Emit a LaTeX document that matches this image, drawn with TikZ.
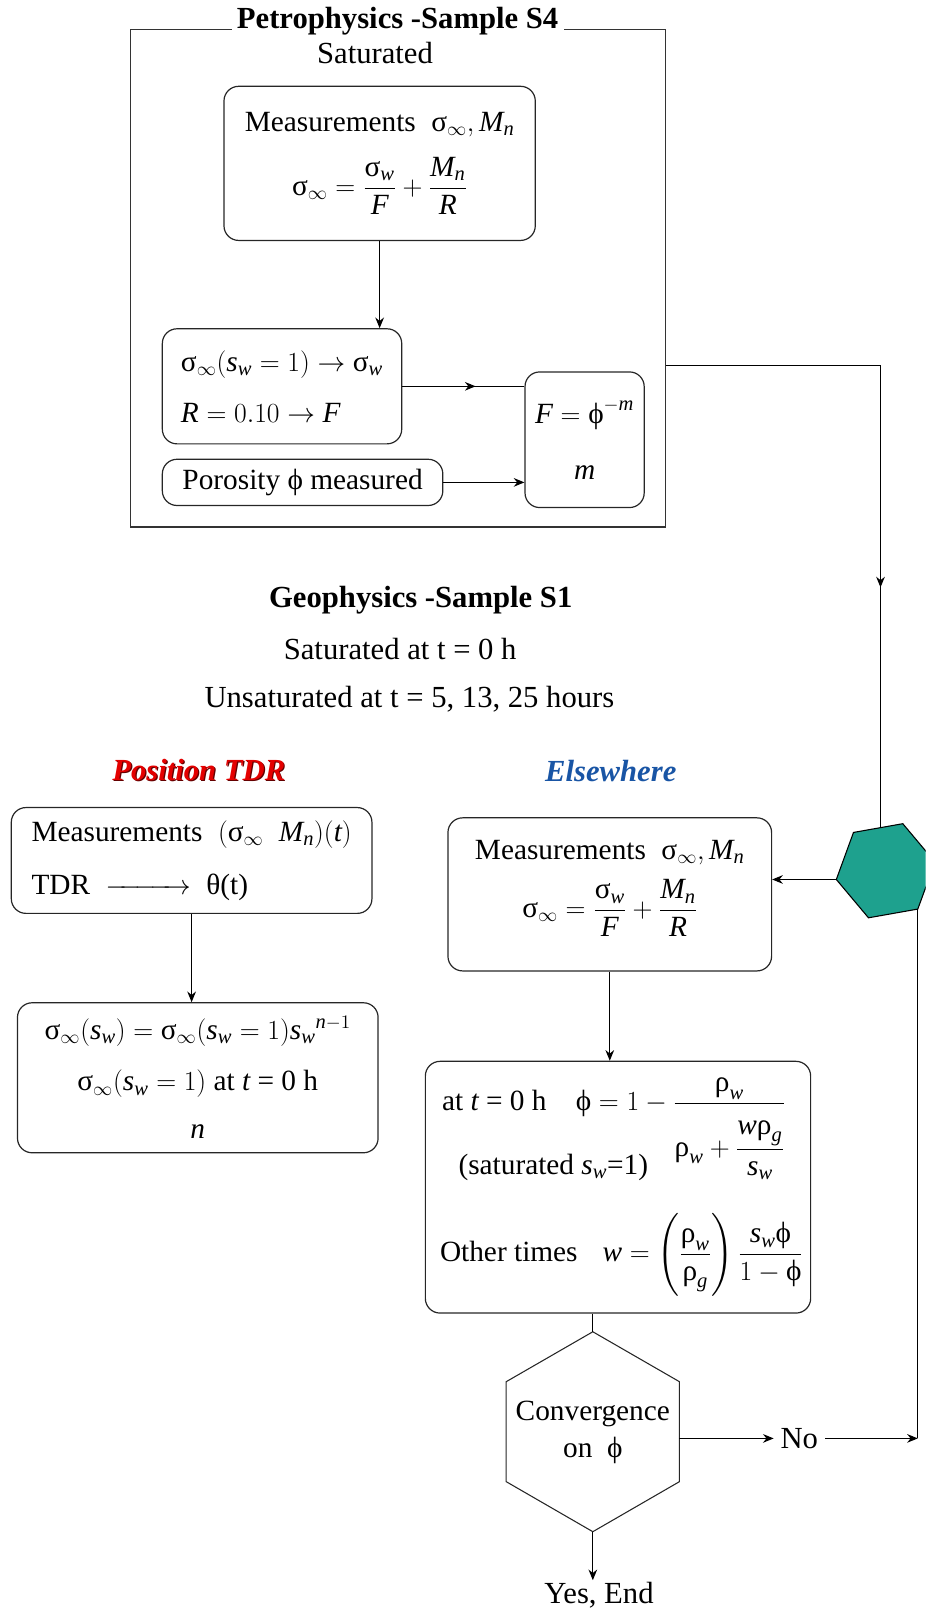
\documentclass[tikz,border=0pt]{standalone}
\usepackage{amsmath}
\usepackage{fontspec}
\setmainfont{Liberation Serif}
\usetikzlibrary{arrows.meta,decorations.markings,calc}
\definecolor{hexgreen}{RGB}{30,161,142}
\definecolor{tdrred}{RGB}{228,0,0}
\definecolor{tdrshadow}{RGB}{100,0,0}
\definecolor{elsblue}{RGB}{25,85,165}
\newcommand{\I}[1]{\mathit{#1}}
\newcommand{\sg}{\text{σ}}
\newcommand{\ph}{\text{ϕ}}
\newcommand{\rh}{\text{ρ}}
\def\U{0.7708pt}
\begin{document}
\begin{tikzpicture}[x=0.7708pt,y=-0.7708pt,
  box/.style={draw=black!85, line width=0.9pt, rounded corners=11pt, inner sep=0pt, align=center, font=\fontsize{22}{28}\selectfont},
  arr/.style={-{Stealth[length=8pt,width=6.5pt]}, line width=0.8pt},
  ln/.style={line width=0.8pt},
  midarr/.style={line width=0.8pt, decoration={markings, mark=at position #1 with {\arrow{Stealth[length=8pt,width=6.5pt]}}}, postaction=decorate},
  txt/.style={font=\fontsize{23}{28}\selectfont, inner sep=1pt},
  boxtxt/.style={font=\fontsize{22}{28}\selectfont, inner sep=0pt},
]
\useasboundingbox (0,0) rectangle (901,1568);
\clip (0,0) rectangle (901,1568);

% ---------- Petrophysics frame ----------
\node[draw=black!80, line width=0.9pt, minimum width=521*\U, minimum height=484*\U, inner sep=0pt] (frame) at (387.5,271) {};
\node[txt, font={\fontsize{23}{28}\selectfont\bfseries}, fill=white, inner xsep=4pt, inner ysep=2pt, anchor=base] (petro) at (387,28) {Petrophysics -Sample S4};
\node[txt] (sat) at (365,52) {Saturated};

\node[box, minimum width=303*\U, minimum height=150*\U] (A) at (369.5,159)
  {Measurements\; $\sg_{\infty},\I{M}_{\I{n}}$\\[14pt]
   $\sg_{\infty}=\dfrac{\sg_{\I{w}}}{\I{F}}+\dfrac{\I{M}_{\I{n}}}{\I{R}}$};
\node[box, align=left, minimum width=233*\U, minimum height=112*\U] (B) at (274.5,376)
  {$\sg_{\infty}(\I{s}_{\I{w}}=1)\rightarrow\sg_{\I{w}}$\\[10pt]
   $\I{R}=0.10\rightarrow\I{F}$};
\node[box, minimum width=273*\U, minimum height=45*\U] (C) at (294.5,469.5) {Porosity ϕ measured};
\node[box, minimum width=116*\U, minimum height=132*\U] (D) at (569,428)
  {$\I{F}=\ph^{-\I{m}}$\\[14pt] $\I{m}$};

\draw[arr] (A.south) -- (A.south |- B.north);
\draw[midarr=0.6] (B.east) -- (B.east -| D.west);
\draw[arr] (C.east) -- (C.east -| D.west);

% ---------- Geophysics header ----------
\node[txt, font={\fontsize{23}{28}\selectfont\bfseries}] (geo) at (409.5,584) {Geophysics -Sample S1};
\node[txt] (sat2) at (389.5,632) {Saturated at t = 0 h};
\node[txt] (unsat) at (398.5,681) {Unsaturated at t = 5, 13, 25 hours};

\node[txt, font={\fontsize{23}{28}\selectfont\bfseries\itshape}] (tdr) at (193.5,750)
  {\rlap{\hspace{0.9pt}\raisebox{-0.9pt}{\color{tdrshadow}Position TDR}}\color{tdrred}Position TDR};
\node[txt, font={\fontsize{23}{28}\selectfont\bfseries\itshape}, text=elsblue] (els) at (594.5,750) {Elsewhere};

% ---------- Position TDR branch ----------
\node[box, align=left, minimum width=351*\U, minimum height=103*\U] (F) at (186.5,837.5)
  {Measurements\; $(\sg_{\infty}\;\;\I{M}_{\I{n}})(\I{t})$\\[12pt]
   TDR\; $\xrightarrow{\hspace{2.4em}}$\; θ(t)};
\node[box, minimum width=351*\U, minimum height=146*\U] (G) at (192.5,1049)
  {$\sg_{\infty}(\I{s}_{\I{w}})=\sg_{\infty}(\I{s}_{\I{w}}=1){\I{s}_{\I{w}}}^{\I{n}-1}$\\[11pt]
   $\sg_{\infty}(\I{s}_{\I{w}}=1)$ at $\I{t}$ = 0 h\\[8pt]
   $\I{n}$};
\draw[arr] (F.south) -- (F.south |- G.north);

% ---------- Elsewhere branch ----------
\node[box, minimum width=315*\U, minimum height=149*\U] (E) at (593.5,870.5)
  {Measurements\; $\sg_{\infty},\I{M}_{\I{n}}$\\[10pt]
   $\sg_{\infty}=\dfrac{\sg_{\I{w}}}{\I{F}}+\dfrac{\I{M}_{\I{n}}}{\I{R}}$\\[-5pt]\mbox{}};
\node[box, minimum width=375*\U, minimum height=245*\U] (H) at (601.5,1155.5) {};
\node[boxtxt, anchor=base west] (h1) at (430,1081)
  {at $\I{t}$ = 0 h\quad $\ph=1-\dfrac{\rh_{\I{w}}}{\rh_{\I{w}}+\dfrac{\rule{0pt}{20pt}\I{w}\rh_{\I{g}}}{\I{s}_{\I{w}}}}$};
\node[boxtxt, anchor=base west] (h2) at (446,1143) {(saturated $\I{s}_{\I{w}}$=1)};
\node[boxtxt, anchor=base west] (h3) at (428,1228)
  {Other times\hspace{0.6em} $\I{w}=\left(\dfrac{\rh_{\I{w}}}{\rh_{\I{g}}}\right)\dfrac{\I{s}_{\I{w}}\ph}{1-\ph}$};
\draw[arr] (E.south) -- (E.south |- H.north);

% ---------- green hexagon ----------
\coordinate (g1) at (910,839);
\coordinate (g2) at (878.7,801.7);
\coordinate (g3) at (830.7,810.2);
\coordinate (g4) at (814,856);
\coordinate (g5) at (845.3,893.3);
\coordinate (g6) at (893.3,884.8);
\filldraw[fill=hexgreen, draw=black, line width=0.8pt] (g1) -- (g2) -- (g3) -- (g4) -- (g5) -- (g6) -- cycle;
\coordinate (gtop) at (857,805.5);
\coordinate (fo) at (648,356);
\draw[midarr=0.645] (fo) -| (gtop);
\draw[arr] (g4) -- (g4 -| E.east);

% ---------- convergence hexagon ----------
\coordinate (c1) at (577,1296.2);
\coordinate (c2) at (492.7,1344.8);
\coordinate (c3) at (492.7,1442.1);
\coordinate (c4) at (577,1490.8);
\coordinate (c5) at (661.3,1442.1);
\coordinate (c6) at (661.3,1344.8);
\draw[ln, draw=black!85] (c1) -- (c2) -- (c3) -- (c4) -- (c5) -- (c6) -- cycle;
\node[boxtxt, align=center] (conv) at (577,1394) {Convergence\\on\enspace ϕ};
\draw[ln] (H.south -| c1) -- (c1);

\coordinate (cr) at (661.3,1400);
\node[txt, inner sep=5pt] (no) at (778,1400) {No};
\node[txt, anchor=north] (yes) at (583,1538) {Yes, End};
\coordinate (ret) at (893.3,1400);
\draw[arr] (cr) -- (no.west);
\draw[arr] (no.east) -- (ret);
\draw[ln] (ret) -- (g6);
\draw[arr] (c4) -- (c4 |- yes.north);
\end{tikzpicture}
\end{document}
